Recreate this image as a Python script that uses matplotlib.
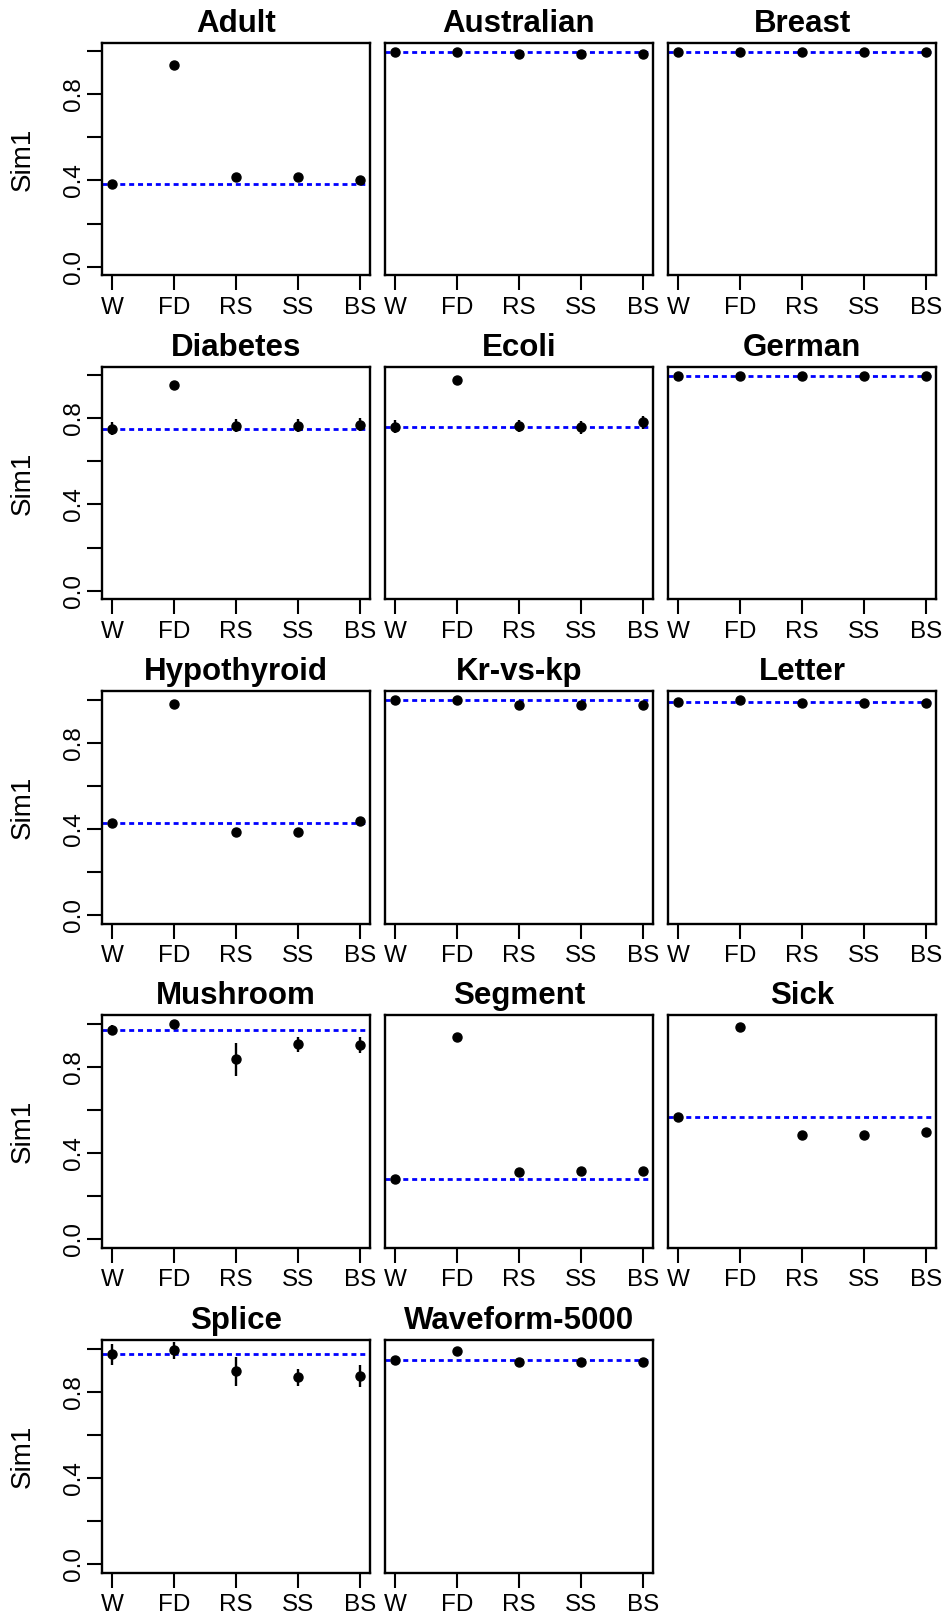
import numpy as np
import matplotlib.pyplot as plt

plt.rcParams['font.family'] = ['Liberation Sans', 'DejaVu Sans']

# methods on the x axis
methods = ['W', 'FD', 'RS', 'SS', 'BS']

# dataset names, one panel each
datasets = ['Adult', 'Australian', 'Breast', 'Diabetes', 'Ecoli', 'German',
            'Hypothyroid', 'Kr-vs-kp', 'Letter', 'Mushroom', 'Segment', 'Sick',
            'Splice', 'Waveform-5000']

# mean Sim1 per method (rows follow datasets)
sim_mean = [
    [0.384, 0.935, 0.417, 0.417, 0.402],
    [0.998, 0.998, 0.986, 0.986, 0.986],
    [0.998, 0.998, 0.998, 0.998, 0.998],
    [0.751, 0.954, 0.765, 0.766, 0.770],
    [0.762, 0.977, 0.763, 0.758, 0.782],
    [0.998, 0.998, 0.998, 0.998, 0.998],
    [0.427, 0.980, 0.384, 0.384, 0.434],
    [0.999, 0.999, 0.977, 0.977, 0.977],
    [0.990, 1.000, 0.984, 0.985, 0.984],
    [0.970, 1.000, 0.834, 0.904, 0.902],
    [0.277, 0.940, 0.311, 0.314, 0.314],
    [0.567, 0.982, 0.483, 0.483, 0.495],
    [0.973, 0.992, 0.894, 0.866, 0.875],
    [0.945, 0.987, 0.936, 0.936, 0.936],
]

# half-length of the vertical error bars
sim_err = [
    [0.005, 0.005, 0.005, 0.005, 0.005],
    [0.005, 0.005, 0.005, 0.005, 0.005],
    [0.004, 0.004, 0.004, 0.004, 0.004],
    [0.030, 0.005, 0.030, 0.030, 0.030],
    [0.030, 0.005, 0.028, 0.030, 0.030],
    [0.004, 0.004, 0.004, 0.004, 0.004],
    [0.012, 0.005, 0.012, 0.012, 0.012],
    [0.005, 0.008, 0.008, 0.008, 0.008],
    [0.005, 0.005, 0.005, 0.005, 0.005],
    [0.023, 0.005, 0.076, 0.036, 0.037],
    [0.012, 0.010, 0.012, 0.012, 0.012],
    [0.012, 0.005, 0.012, 0.010, 0.010],
    [0.047, 0.039, 0.066, 0.041, 0.051],
    [0.012, 0.005, 0.010, 0.010, 0.010],
]

W, H = 943, 1616
fig = plt.figure(figsize=(W / 100, H / 100), dpi=100)

col_left = [102, 385, 668]
row_top = [42.7, 366.7, 691, 1015, 1340]
ax_w, ax_h = 268, 232.5

x = np.arange(1, len(methods) + 1)

for i, name in enumerate(datasets):
    r, c = divmod(i, 3)
    left = col_left[c]
    top = row_top[r]
    ax = fig.add_axes([left / W, 1 - (top + ax_h) / H, ax_w / W, ax_h / H])

    m = sim_mean[i]
    e = sim_err[i]
    # blue reference line at the W value
    ax.axhline(m[0], color='blue', lw=2, ls=(0, (1.8, 1.4)), zorder=1)
    ax.errorbar(x, m, yerr=e, fmt='o', color='black', ms=6.5,
                elinewidth=1.7, capsize=0, zorder=3)

    ax.set_xlim(0.84, 5.16)
    ax.set_ylim(-0.04, 1.04)
    ax.set_xticks(x)
    ax.set_xticklabels(methods)
    ax.tick_params(axis='x', direction='out', length=10.5, width=1.5,
                   labelsize=17.5, pad=5)

    if c == 0:
        ax.set_yticks([0, 0.2, 0.4, 0.6, 0.8, 1.0])
        ax.set_yticklabels(['0.0', '', '0.4', '', '0.8', ''])
        ax.tick_params(axis='y', direction='out', length=10.5, width=1.5,
                       labelsize=17.5, pad=1.5, labelrotation=90)
        for lab in ax.get_yticklabels():
            lab.set_va('center')
        fig.text(23 / W, 1 - (top + ax_h / 2) / H, 'Sim1', rotation=90,
                 ha='center', va='center', fontsize=20)
    else:
        ax.set_yticks([])

    for sp in ax.spines.values():
        sp.set_linewidth(1.7)

    ax.set_title(name, fontsize=22.5, fontweight='bold', pad=8)

fig.savefig('out.png', dpi=100)
